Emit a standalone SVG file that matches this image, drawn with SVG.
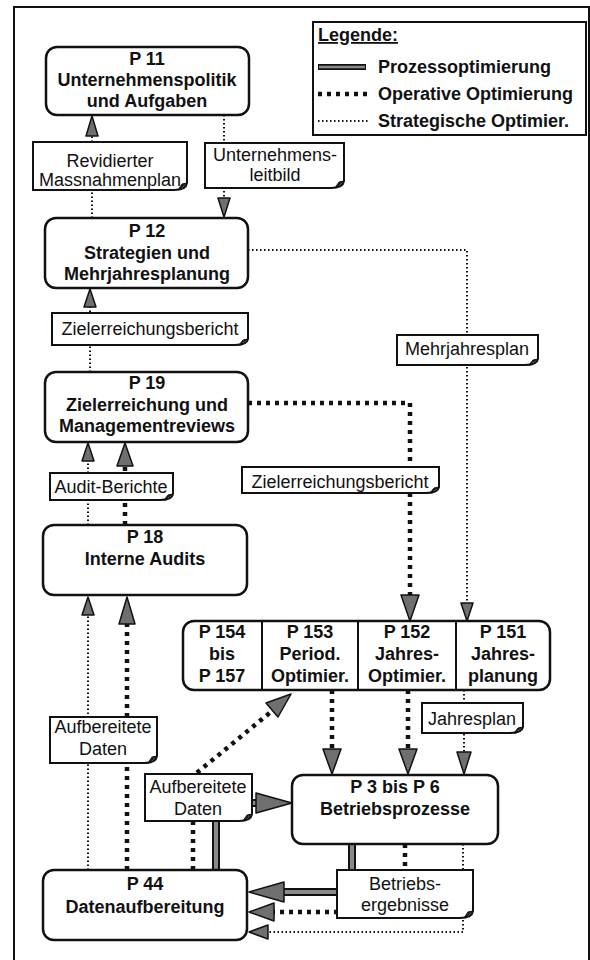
<svg xmlns="http://www.w3.org/2000/svg" width="590" height="960" viewBox="0 0 590 960">
  <style>
    .frame { fill: none; stroke: #111; stroke-width: 2; }
    .node { fill: #fff; stroke: #111; stroke-width: 2.5; }
    .note { fill: #fff; stroke: #111; stroke-width: 2; }
    .fold { fill: #222; stroke: #111; stroke-width: 1; }
    .bold { font-family: "Liberation Sans", Arial, sans-serif; font-weight: bold; font-size: 18px; fill: #111; text-anchor: middle; }
    .txt { font-family: "Liberation Sans", Arial, sans-serif; font-size: 18px; fill: #111; text-anchor: middle; }
    .leg { font-family: "Liberation Sans", Arial, sans-serif; font-weight: bold; font-size: 18px; fill: #111; }
    .proc-o { fill: none; stroke: #111; stroke-width: 8; }
    .proc-i { fill: none; stroke: #8a8a8a; stroke-width: 4; }
    .oper { fill: none; stroke: #111; stroke-width: 4.5; stroke-dasharray: 4 5; }
    .strat { fill: none; stroke: #111; stroke-width: 2; stroke-dasharray: 1.5 2.5; }
    .head { fill: #6f6f6f; stroke: #111; stroke-width: 1.5; stroke-linejoin: round; }
  </style>

  <!-- outer frame -->
  <path class="frame" d="M14 960 V7 H589 V960"/>

  <!-- legend -->
  <g id="legend">
    <rect x="313" y="22" width="273" height="113" fill="#fff" stroke="#111" stroke-width="2"/>
    <text class="leg" x="318" y="41" text-decoration="underline">Legende:</text>
    <line class="proc-o" x1="318" y1="67" x2="366" y2="67" style="stroke-width:6"/>
    <line class="proc-i" x1="319" y1="67" x2="365" y2="67" style="stroke-width:2.5"/>
    <text class="leg" x="378" y="73">Prozessoptimierung</text>
    <line class="oper" x1="318" y1="94" x2="368" y2="94"/>
    <text class="leg" x="378" y="100">Operative Optimierung</text>
    <line class="strat" x1="318" y1="121" x2="368" y2="121"/>
    <text class="leg" x="378" y="127">Strategische Optimier.</text>
  </g>

  <!-- connectors (drawn below labels and nodes) -->
  <g id="connectors">
    <!-- P 12 -> P 11 -->
    <line class="strat" x1="92" y1="218" x2="92" y2="134"/>
    <polygon class="head" points="92,116 86,136 98,136"/>
    <!-- P 11 -> P 12 -->
    <line class="strat" x1="224" y1="115" x2="224" y2="200"/>
    <polygon class="head" points="224,217 218,198 230,198"/>
    <!-- P 19 -> P 12 -->
    <line class="strat" x1="90" y1="372" x2="90" y2="305"/>
    <polygon class="head" points="90,289 84,307 96,307"/>
    <!-- P 18 -> P 19 -->
    <line class="strat" x1="88" y1="525" x2="88" y2="459"/>
    <polygon class="head" points="88,443 82,461 94,461"/>
    <line class="oper" x1="125" y1="525" x2="125" y2="464"/>
    <polygon class="head" points="125,443 117,466 133,466"/>
    <!-- P 44 -> P 18 -->
    <line class="strat" x1="88" y1="870" x2="88" y2="613"/>
    <polygon class="head" points="88,597 82,615 94,615"/>
    <line class="oper" x1="127" y1="870" x2="127" y2="622"/>
    <polygon class="head" points="127,597 119,624 135,624"/>
    <!-- P 12 -> P 151 -->
    <path class="strat" d="M248 250 H467 V605"/>
    <polygon class="head" points="467,621 461,603 473,603"/>
    <!-- P 19 -> P 152 -->
    <path class="oper" d="M248 403 H410 V598"/>
    <polygon class="head" points="410,621 401,595 419,595"/>
    <!-- P 153 / P 152 / P 151 -> P 3 bis P 6 -->
    <line class="oper" x1="332" y1="690" x2="332" y2="752"/>
    <polygon class="head" points="332,774 323,749 341,749"/>
    <line class="oper" x1="408" y1="690" x2="408" y2="752"/>
    <polygon class="head" points="408,774 399,749 417,749"/>
    <line class="strat" x1="464" y1="690" x2="464" y2="755"/>
    <polygon class="head" points="464,774 457,752 471,752"/>
    <!-- P 44 -> P 153 -->
    <path class="oper" d="M193 870 V776 L272 711"/>
    <polygon class="head" points="291,694 266,703 278,717"/>
    <!-- P 44 -> P 3 bis P 6 -->
    <path class="proc-o" d="M216 870 V803 H262"/>
    <path class="proc-i" d="M216 870 V803 H262"/>
    <polygon class="head" points="292,803 256,793 256,813"/>
    <!-- P 3 bis P 6 -> P 44 -->
    <path class="proc-o" d="M352 844 V892 H280"/>
    <path class="proc-i" d="M352 844 V892 H280"/>
    <polygon class="head" points="249,892 284,882 284,902"/>
    <path class="oper" d="M405 844 V912 H272"/>
    <polygon class="head" points="249,912 274,903 274,921"/>
    <path class="strat" d="M463 844 V932 H266"/>
    <polygon class="head" points="249,932 268,925 268,939"/>
  </g>

  <!-- process nodes -->
  <g id="p11">
    <rect class="node" x="46" y="47" width="203" height="68" rx="11"/>
    <text class="bold" x="147" y="65">P 11</text>
    <text class="bold" x="147" y="86">Unternehmenspolitik</text>
    <text class="bold" x="147" y="107">und Aufgaben</text>
  </g>
  <g id="p12">
    <rect class="node" x="45" y="218" width="203" height="70" rx="11"/>
    <text class="bold" x="147" y="237">P 12</text>
    <text class="bold" x="147" y="259">Strategien und</text>
    <text class="bold" x="147" y="280">Mehrjahresplanung</text>
  </g>
  <g id="p19">
    <rect class="node" x="45" y="372" width="203" height="70" rx="11"/>
    <text class="bold" x="147" y="389">P 19</text>
    <text class="bold" x="147" y="411">Zielerreichung und</text>
    <text class="bold" x="147" y="432">Managementreviews</text>
  </g>
  <g id="p18">
    <rect class="node" x="43" y="525" width="204" height="70" rx="11"/>
    <text class="bold" x="145" y="543">P 18</text>
    <text class="bold" x="145" y="565">Interne Audits</text>
  </g>
  <g id="p151-157">
    <rect class="node" x="183" y="621" width="367" height="69" rx="11"/>
    <line x1="262" y1="621" x2="262" y2="690" stroke="#111" stroke-width="2"/>
    <line x1="358" y1="621" x2="358" y2="690" stroke="#111" stroke-width="2"/>
    <line x1="456" y1="621" x2="456" y2="690" stroke="#111" stroke-width="2"/>
    <text class="bold" x="222" y="638">P 154</text>
    <text class="bold" x="222" y="660">bis</text>
    <text class="bold" x="222" y="682">P 157</text>
    <text class="bold" x="310" y="638">P 153</text>
    <text class="bold" x="310" y="660">Period.</text>
    <text class="bold" x="310" y="682">Optimier.</text>
    <text class="bold" x="407" y="638">P 152</text>
    <text class="bold" x="407" y="660">Jahres-</text>
    <text class="bold" x="407" y="682">Optimier.</text>
    <text class="bold" x="503" y="638">P 151</text>
    <text class="bold" x="503" y="660">Jahres-</text>
    <text class="bold" x="503" y="682">planung</text>
  </g>
  <g id="p3-6">
    <rect class="node" x="292" y="775" width="206" height="69" rx="11"/>
    <text class="bold" x="395" y="793">P 3 bis P 6</text>
    <text class="bold" x="395" y="815">Betriebsprozesse</text>
  </g>
  <g id="p44">
    <rect class="node" x="43" y="870" width="204" height="70" rx="11"/>
    <text class="bold" x="145" y="890">P 44</text>
    <text class="bold" x="145" y="913">Datenaufbereitung</text>
  </g>

  <!-- document labels on connectors -->
  <g id="note-massnahmenplan">
    <path class="note" d="M33 142 H187 V183 Q186 190 174 190 H33 Z"/>
    <path class="fold" d="M187 183 L178 190 L182 184 Z"/>
    <text class="txt" x="110" y="167">Revidierter</text>
    <text class="txt" x="110" y="186">Massnahmenplan</text>
  </g>
  <g id="note-leitbild">
    <path class="note" d="M205 143 H344 V181 Q343 188 331 188 H205 Z"/>
    <path class="fold" d="M344 181 L335 188 L339 182 Z"/>
    <text class="txt" x="275" y="161">Unternehmens-</text>
    <text class="txt" x="275" y="181">leitbild</text>
  </g>
  <g id="note-zielbericht1">
    <path class="note" d="M52 313 H248 V339 Q247 345 235 345 H52 Z"/>
    <path class="fold" d="M248 339 L239 345 L243 340 Z"/>
    <text class="txt" x="150" y="335">Zielerreichungsbericht</text>
  </g>
  <g id="note-mehrjahresplan">
    <path class="note" d="M397 335 H538 V359 Q537 365 525 365 H397 Z"/>
    <path class="fold" d="M538 359 L529 365 L533 360 Z"/>
    <text class="txt" x="467" y="355">Mehrjahresplan</text>
  </g>
  <g id="note-audit">
    <path class="note" d="M50 473 H173 V494 Q172 500 160 500 H50 Z"/>
    <path class="fold" d="M173 494 L164 500 L168 495 Z"/>
    <text class="txt" x="111" y="493">Audit-Berichte</text>
  </g>
  <g id="note-zielbericht2">
    <path class="note" d="M242 467 H439 V487 Q438 493 426 493 H242 Z"/>
    <path class="fold" d="M439 487 L430 493 L434 488 Z"/>
    <text class="txt" x="340" y="488">Zielerreichungsbericht</text>
  </g>
  <g id="note-jahresplan">
    <path class="note" d="M422 703 H523 V727 Q522 733 510 733 H422 Z"/>
    <path class="fold" d="M523 727 L514 733 L518 728 Z"/>
    <text class="txt" x="472" y="725">Jahresplan</text>
  </g>
  <g id="note-daten1">
    <path class="note" d="M50 717 H157 V756 Q156 763 144 763 H50 Z"/>
    <path class="fold" d="M157 756 L148 763 L152 757 Z"/>
    <text class="txt" x="103" y="733">Aufbereitete</text>
    <text class="txt" x="103" y="755">Daten</text>
  </g>
  <g id="note-daten2">
    <path class="note" d="M145 774 H252 V814 Q251 821 239 821 H145 Z"/>
    <path class="fold" d="M252 814 L243 821 L247 815 Z"/>
    <text class="txt" x="198" y="793">Aufbereitete</text>
    <text class="txt" x="198" y="815">Daten</text>
  </g>
  <g id="note-ergebnisse">
    <path class="note" d="M337 870 H473 V911 Q472 918 460 918 H337 Z"/>
    <path class="fold" d="M473 911 L464 918 L468 912 Z"/>
    <text class="txt" x="405" y="890">Betriebs-</text>
    <text class="txt" x="405" y="911">ergebnisse</text>
  </g>
</svg>
